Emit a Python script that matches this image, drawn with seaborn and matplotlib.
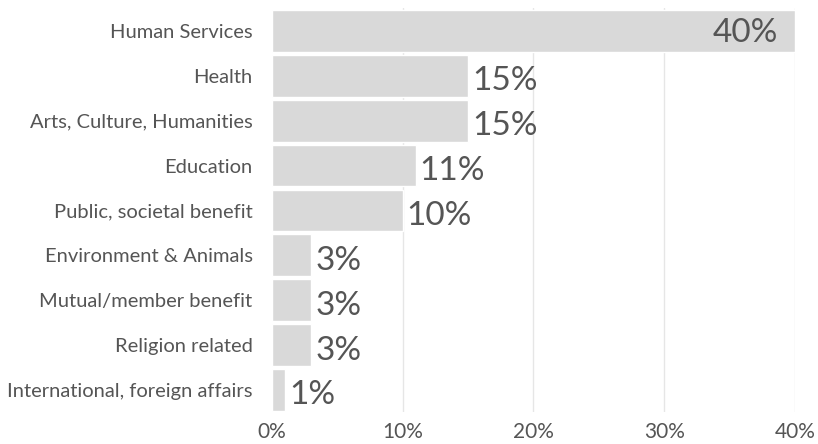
import matplotlib
matplotlib.use("Agg")
import matplotlib.pyplot as plt
import seaborn as sns
import pandas as pd

# data
categories = ["Human Services", "Health", "Arts, Culture, Humanities", "Education",
              "Public, societal benefit", "Environment & Animals", "Mutual/member benefit",
              "Religion related", "International, foreign affairs"]
values = [40, 15, 15, 11, 10, 3, 3, 3, 1]
labels = ["40%", "15%", "15%", "11%", "10%", "3%", "3%", "3%", "1%"]
xticks = [0, 10, 20, 30, 40]
xticklabels = ["0%", "10%", "20%", "30%", "40%"]

df = pd.DataFrame({"category": categories, "value": values})

sns.set_style("white")
plt.rcParams["font.family"] = ["Lato", "DejaVu Sans"]

fig = plt.figure(figsize=(8.18, 4.44), dpi=100)
ax = fig.add_axes([0.3325, 0.071, 0.6394, 0.910])

for t in xticks[1:]:
    ax.axvline(t, color="#e6e6e6", lw=1, zorder=0)

sns.barplot(data=df, x="value", y="category", orient="h", color="#d9d9d9",
            saturation=1, width=0.93, ax=ax, zorder=2)

for i, (v, lab) in enumerate(zip(values, labels)):
    if v >= 40:
        ax.text(v - 1.3, i + 0.05, lab, ha="right", va="center", fontsize=24,
                color="#555555", zorder=3)
    else:
        ax.text(v + 0.3, i + 0.12, lab, ha="left", va="center", fontsize=24,
                color="#555555", zorder=3)

ax.set_xlim(0, 40)
ax.set_ylim(len(categories) - 0.5, -0.5)
ax.set_xticks(xticks)
ax.set_xticklabels(xticklabels)
ax.tick_params(axis="both", length=0, colors="#555555")
ax.tick_params(axis="y", pad=14, labelsize=14.5)
ax.tick_params(axis="x", pad=7, labelsize=15)
ax.set_xlabel("")
ax.set_ylabel("")
sns.despine(ax=ax, left=True, bottom=True)

fig.savefig("out.png", dpi=100)
